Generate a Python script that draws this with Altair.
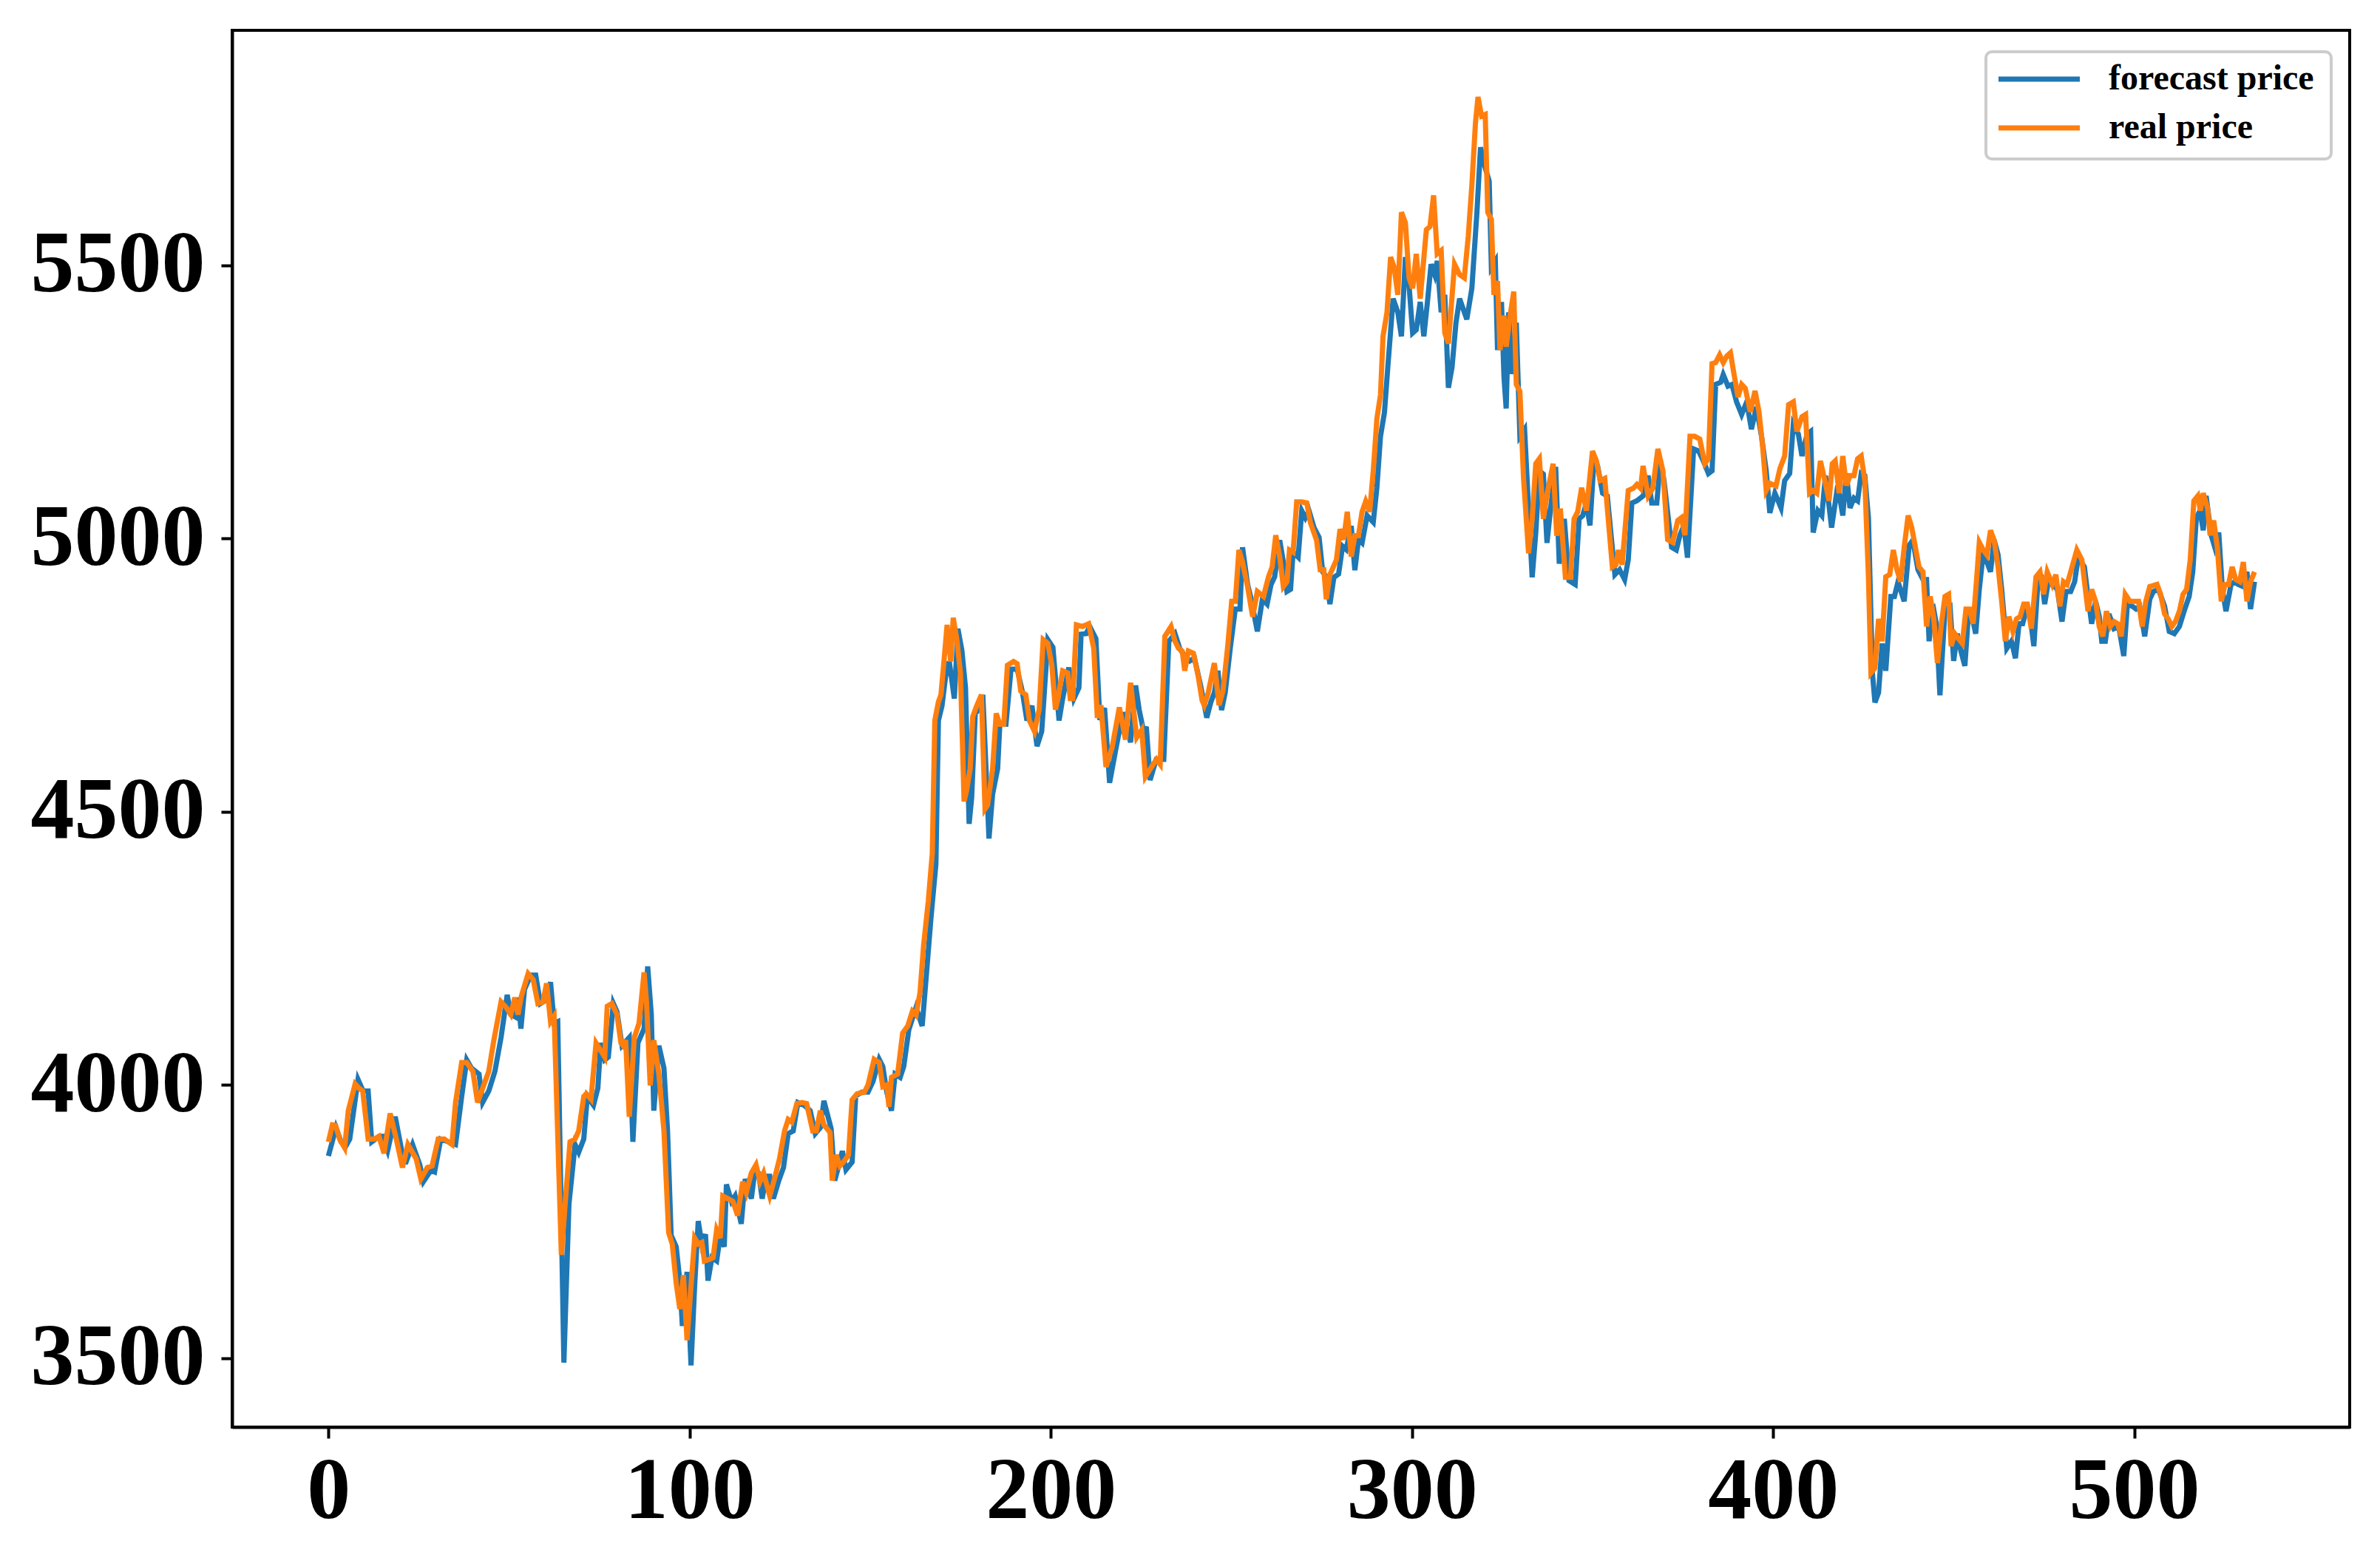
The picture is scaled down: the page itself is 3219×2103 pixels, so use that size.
import altair as alt
import pandas as pd

# ---- data ----
real_x = [0, 1.1, 2, 3.1, 4.5, 5.5, 7.4, 8.5, 9.5, 11, 12.7, 14, 15.4, 17.1, 18.8, 20.5, 22, 24.3, 25.6, 27.4,
          28.7, 30.4, 32.1, 34.2, 35.2, 36.9, 38.3, 40, 41.3, 42.7, 44.4, 45.8, 47.8, 49.2, 50.5, 51.6, 52.5, 53.4,
          55.3, 56.7, 58, 59.4, 60.4, 61.5, 62.5, 64.5, 65.6, 66.9,
          68.3, 69.3, 70.7, 71.4, 72.7, 74.1, 75.5, 76.5, 77.2, 78.5, 79.9, 81, 81.6, 82.3, 83.3, 84.7, 86, 87.4,
          88.1, 89.1, 90.1, 91.5, 92.9, 94.2, 95.2, 96.3, 97.3, 98.3, 99.3, 100.4, 101.4, 102.4, 103.4, 104.1,
          105.5, 106.5, 107.5, 108.5, 109.2, 110.6, 112, 113.3, 114.7, 115.7, 117.1, 118.4, 119.5, 120.5, 122.2,
          123.5, 124.9, 126.3, 127.3, 128.3, 129.7, 131.1, 132.4, 134.1, 135.1, 136.2, 137.2,
          138.9, 139.5, 140.6, 141.6, 142.6, 144, 145, 146.4, 148.4, 149.4, 151.1, 152.5, 153.5, 154.6, 155.2,
          155.9, 157.6, 159, 160.4, 161.7, 162.7, 163.8, 164.8, 166.1, 167.2, 167.9, 168.9, 169.6, 170.6, 171.3,
          172.3, 173, 174, 175, 176, 176.7, 177.7, 178.4, 179.5, 180.8, 181.8, 182.5, 183.9, 184.9, 185.9, 187,
          188, 189.7, 190.7, 191.7, 193.1, 194.1, 195.5, 196.8, 197.9, 199.2, 200.3, 201.3, 202, 203.3, 204.7,
          205.4, 206.1, 207.1,
          208.8, 210.5, 211.9, 212.9, 213.9, 215.3, 217, 219, 220.7, 222.1, 223.8, 225.2, 226.2, 227.9, 229.3,
          230.3, 231.6, 233.3, 234.4, 235.4, 236.4, 237.1, 238.1, 239.5, 240.8, 241.9, 242.5, 243.6, 245.3,
          246.6, 247.7, 249, 250.1, 251.1, 252.1, 253.1, 254.5, 255.9, 257.2, 258.9, 260.3, 261.3, 262.3, 263.4,
          264.4, 265.4, 266.1, 267.1, 268.1, 269.5, 270.9, 271.9, 273.6, 274.6, 275.6, 276.3, 277.3,
          279.1, 280.1, 281.1, 282.1, 283.2, 284.2, 285.2, 286.2, 287.2, 288.3, 289.3, 290.3, 291.3, 292, 293.1,
          294.1, 295.1, 296.1, 297.1, 298.2, 299.2, 300.2, 301.2, 302.3, 304, 305, 306, 307, 308.1, 309.1, 310.1,
          311.8, 313.2, 314.5, 315.6, 316.6, 317.6, 318.3, 319.3, 320.3, 321, 322, 322.7, 323.7, 324.4, 325.5,
          326.1, 327.2, 328.2, 328.9, 329.9, 330.9, 332.3, 333.3, 334.3, 335.3, 336.4, 337.4, 339.1, 340.1,
          341.1, 342.5, 343.9, 344.9, 345.9, 347,
          348.3, 350, 351.1, 352.1, 353.4, 355.5, 356.5, 357.2, 358.2, 359.9, 361.3, 362.3, 363.3, 364, 365.4,
          366.7, 368.1, 369.5, 370.8, 372.2, 373.6, 374.6, 375.6, 377, 378.3, 379.7, 381.1, 382.1, 383.1, 384.1,
          385.2, 386.2, 387.2, 388.2, 389.2, 390.3, 391.3, 392.3, 393.7, 395, 396.1, 397.1, 398.1, 399.1, 400.8,
          401.9, 403.2, 404.3, 405.6, 406.6, 408, 409, 410.1, 411.1, 412.1, 413.1, 414.2, 415.5, 416.4,
          417.2, 418.3, 419.3, 420.3, 421.3, 422.4, 423.4, 424.4, 425.4, 426.4, 427.1, 428.2, 429.2, 430.2, 431.2,
          432.3, 433.3, 434.3, 435.3, 436.3, 437.4, 438.4, 439.4, 440.4, 441.5, 442.5, 443.5, 444.5, 445.5,
          446.6, 447.6, 448.6, 449.3, 450.3, 451.3, 452.4, 453.4, 454.4, 455.4, 456.5, 457.1, 458.2, 459.2,
          460.2, 461.2, 462.3, 463.3, 464.3, 465.3, 466.4, 467.4, 468.4, 469.4, 470.4, 471.5, 472.8, 473.9,
          474.9, 475.9,
          477.3, 478.3, 479.4, 480.4, 481.4, 482.4, 484.1, 485.5, 487.2, 488.2, 489.3, 490.3, 491.3, 492.3,
          493.4, 494.4, 495.4, 496.4, 497.5, 498.8, 499.8, 501.2, 502.2, 503.2, 504.3, 505.3, 506.3, 507.3,
          508.4, 509.4, 510.4, 511.4, 512.5, 513.5, 514.5, 515.5, 516.5, 517.6, 518.3, 519.1, 520.3, 521, 522,
          523, 524.1, 525.1, 526.1, 527.1, 528.1, 529.2, 530.2, 531.2, 532.2, 533.3]
real_price = [3896, 3927, 3926, 3901, 3885, 3953, 4002, 3994, 3989, 3901, 3901, 3906, 3875, 3948, 3901, 3849, 3891,
              3865, 3828, 3849, 3852, 3901, 3901, 3891, 3968, 4041, 4041, 4025, 3968, 3994, 4025, 4082, 4152, 4142,
              4129, 4160, 4129, 4162, 4204, 4193, 4149, 4152, 4186, 4116, 4126, 3689, 3787, 3896,
              3901, 3916, 3979, 3984, 3974, 4077, 4062, 4051, 4144, 4149, 4129, 4077, 4072, 4082, 3942, 4087, 4113,
              4206, 4149, 3999, 4082, 4020, 3916, 3730, 3709, 3637, 3590, 3652, 3533, 3632, 3720, 3709, 3712, 3678,
              3681, 3684, 3735, 3720, 3797, 3792, 3787, 3761, 3823, 3803, 3839, 3854, 3823, 3839, 3797, 3828, 3865,
              3916, 3937, 3932, 3966, 3968, 3966, 3916, 3916, 3953, 3927,
              3913, 3825, 3872, 3852, 3859, 3872, 3973, 3984, 3987, 4000, 4047, 4041, 3997, 4000, 3960, 4014, 4020,
              4095, 4108, 4135, 4128, 4169, 4256, 4337, 4424, 4667, 4701, 4714, 4788, 4842, 4775, 4855, 4815, 4754,
              4519, 4539, 4579, 4674, 4694, 4714, 4505, 4512, 4579, 4680, 4660, 4660, 4768, 4775, 4771, 4721, 4714,
              4667, 4647, 4687, 4815, 4808, 4768, 4687, 4707, 4758, 4754, 4707, 4707, 4842,
              4839, 4844, 4799, 4672, 4695, 4582, 4618, 4691, 4632, 4736, 4636, 4650, 4564, 4582, 4596, 4587, 4821,
              4839, 4812, 4799, 4794, 4758, 4794, 4790, 4749, 4704, 4695, 4718, 4772, 4695, 4722, 4803, 4885, 4885,
              4979, 4957, 4912, 4857, 4903, 4894, 4930, 4948, 5006, 4966, 4912, 4921, 4979, 4975, 5067, 5067, 5065,
              5029, 4997, 4943, 4943, 4889, 4934,
              4961, 5017, 4998, 5049, 4967, 5005, 5005, 5049, 5068, 5049, 5124, 5219, 5263, 5370, 5414, 5515, 5496,
              5446, 5597, 5578, 5477, 5458, 5521, 5439, 5565, 5571, 5628, 5521, 5527, 5376, 5357, 5502, 5483, 5477,
              5553, 5647, 5761, 5808, 5773, 5776, 5597, 5584, 5446, 5471, 5345, 5408, 5351, 5408, 5452, 5282, 5269,
              5111, 4973, 5036, 5137, 5146, 5036, 5080, 5137, 5005, 5055, 4929, 4929, 5036, 5049, 5093,
              5051, 5160, 5142, 5106, 5110, 4948, 4952, 4979, 4952, 5088, 5092, 5099, 5092, 5133, 5078, 5092, 5164,
              5124, 4998, 4993, 5033, 5038, 5006, 5187, 5187, 5182, 5137, 5146, 5320, 5322, 5336, 5322, 5334, 5340,
              5300, 5259, 5282, 5275, 5232, 5270, 5232, 5169, 5088, 5101, 5096, 5128, 5151, 5245, 5250, 5196, 5223,
              5227, 5083, 5088, 5083, 5142, 5110, 5069, 5137,
              5142, 5083, 5151, 5097, 5115, 5115, 5146, 5151, 5106, 4930, 4754, 4763, 4853, 4812, 4930, 4934, 4979,
              4943, 4921, 4984, 5042, 5020, 4984, 4948, 4939, 4839, 4894, 4853, 4772, 4844, 4894, 4898, 4803, 4826,
              4817, 4808, 4871, 4871, 4844, 4939, 4993, 4979, 4970, 5015, 4997, 4948, 4885, 4812, 4857, 4830, 4853,
              4857, 4880, 4880, 4835, 4930, 4939, 4898, 4939,
              4916, 4934, 4876, 4921, 4916, 4939, 4979, 4961, 4867, 4907, 4885, 4839, 4821, 4867, 4839, 4848, 4844,
              4821, 4898, 4885, 4885, 4885, 4839, 4885, 4912, 4914, 4916, 4898, 4862, 4853, 4839, 4848, 4867, 4898,
              4907, 4961, 5069, 5078, 5051, 5083, 5056, 5006, 5033, 4984, 4885, 4916, 4916, 4948, 4925, 4921, 4957,
              4885, 4921, 4939]

forecast_x = [0, 2.1, 3.5, 4.8, 5.9, 8.2, 9.6, 11, 12, 14, 15, 16.4, 18.5, 20.9, 21.5, 23.3, 25.3, 26.3, 28.4, 29.4,
              31.1, 33.2, 35.2, 36.9, 38.3, 39.6, 41.7, 42.7, 44.4, 46.1, 47.8, 49.5, 50.5, 51.9, 52.5, 53.3, 54.3,
              56, 57.4, 58.7, 60.1, 61.5, 62.5, 63.5, 65.2, 66.6,
              68.3, 69.3, 70.7, 71.7, 73.4, 74.6, 75.4, 76.5, 77.5, 78.9, 79.9, 81.3, 83.3, 84.3, 85.7, 87.4, 88.4,
              89.4, 90.1, 91.5, 92.9, 93.9, 94.9, 96.3, 97.3, 98, 99.3, 100.4, 101.4, 102.4, 103.4, 104.4, 105.1,
              106.2, 107.5, 108.5, 109.6, 110.2, 111.6, 112.6, 114.3, 115.4, 117.1, 118.1, 119.1, 120.1, 121.2,
              122.2, 123.2, 124.6, 126, 127.3, 128.7, 130, 131.7, 133.4, 134.8, 136.2, 137.2,
              139.2, 140.2, 141.3, 142.3, 143.3, 145, 146, 147.7, 149.4, 150.8, 152.5, 153.5, 154.6, 155.9, 156.9,
              158.3, 159.3, 160.7, 162.7, 164.4, 165.5, 166.8, 168.2, 168.9, 169.9, 170.9, 171.9, 173.3, 174.3,
              175.4, 176.4, 177.4, 178.1, 179.1, 180.1, 181.2, 182.9, 183.9, 185.3, 185.9, 187.6, 189, 190.7, 192.1,
              193.4, 194.8, 196.2, 197.5, 199.2, 200.6, 202.3, 203.3, 205, 206.4, 207.8,
              208.4, 209.8, 210.8, 212.5, 213.6, 214.9, 216.3, 218, 220, 222.1, 223.5, 224.5, 225.5, 226.5, 227.5,
              229.2, 231.3, 232.7, 234.4, 235.7, 237.1, 238.5, 239.8, 241.5, 243.2, 244.3, 245.3, 246.3, 247.3,
              248.3, 249.7, 251.1, 252.4, 253.1, 254.5, 255.5, 257.2, 258.6, 259.9, 261, 262, 263.4, 264.4, 265.4,
              266.4, 267.1, 268.5, 269.5, 270.5, 271.5, 272.9, 274.3, 275.3, 276.3, 277.3,
              278.4, 279.7, 280.8, 281.8, 283.2, 284.2, 285.2, 286.2, 287.6, 289.3, 290.3, 291.3, 292.4, 293.4,
              294.8, 296.1, 297.1, 298.2, 299.2, 300.2, 301.2, 302.3, 303.3, 304.3, 305.3, 306.3, 307, 308.1, 309.1,
              310.1, 311.1, 312.2, 313.2, 314.2, 315.2, 316.6, 318, 319, 320, 321.4, 322, 323.1, 323.7, 324.8,
              325.5, 326.1, 326.8, 327.8, 328.9, 329.9, 331.2, 332.3, 333.3, 334.3, 335.3, 336.4, 337.4, 338.4,
              339.8, 340.8, 342.2, 343.5, 345.2, 346.3,
              347.3, 348.3, 349.3, 350.4, 351.4, 352.8, 354.1, 356.2, 357.5, 358.9, 359.9, 360.9, 362.3, 364, 365.4,
              366.4, 367.8, 368.8, 369.8, 371.9, 373.2, 374.2, 375.3, 376.3, 378, 379.4, 380.7, 382.1, 383.1, 384.1,
              385.5, 386.2, 387.5, 388.6, 389.9, 391.3, 392.7, 394, 395.4, 396.8, 398.1, 399.1, 400.5, 402.2, 403.2,
              404.6, 405.6, 407, 408, 409.4, 410.4, 411.1, 412.4, 413.5, 414.5, 416.2,
              417.9, 419.3, 420.3, 421.3, 422.4, 423.4, 424.4, 425.4, 426.4, 427.5, 428.2, 429.2, 430.2, 431.2,
              432.6, 433.6, 434.6, 436.3, 437.7, 438.7, 440.1, 441.5, 442.5, 443.2, 444.2, 445.2, 446.2, 447.6, 449,
              450, 451, 452, 453.1, 454.1, 455.1, 456.1, 457.1, 458.2, 459.2, 460.2, 461.2, 462.3, 463.3, 464.7,
              466, 467.1, 468.1, 469.1, 470.2, 471.1, 472.2, 473.2, 474.2, 475.2, 476.3,
              477.3, 478.7, 480, 481.1, 482.4, 483.5, 484.5, 486.2, 487.2, 488.2, 489.3, 490.3, 491, 492, 493,
              494.4, 495.7, 497.1, 498.1, 499.5, 500.5, 501.5, 502.9, 504.3, 505.3, 506.7, 508.4, 509.7, 511.1,
              512.5, 513.8, 515.2, 516.2, 517.2, 518.2, 519.1, 519.9, 521.3, 522.3, 523.4, 524.4, 525.4, 526.8,
              527.8, 528.8, 530.2, 531.2, 532.2, 533.3]
forecast_price = [3870, 3922, 3896, 3888, 3901, 4010, 3989, 3989, 3896, 3906, 3906, 3880, 3942, 3859, 3859, 3891,
                  3854, 3823, 3844, 3841, 3901, 3896, 3891, 3979, 4046, 4031, 4020, 3968, 3989, 4025, 4087, 4165,
                  4129, 4124, 4160, 4103, 4175, 4201, 4201, 4149, 4155, 4188, 4113, 4116, 3492, 3782,
                  3891, 3877, 3901, 3979, 3963, 3994, 4077, 4046, 4051, 4149, 4134, 4072, 4087, 3896, 4077, 4103,
                  4217, 4129, 3953, 4072, 4031, 3916, 3725, 3704, 3642, 3559, 3658, 3487, 3632, 3751, 3709, 3727,
                  3642, 3684, 3678, 3725, 3704, 3818, 3787, 3797, 3746, 3828, 3792, 3844, 3839, 3792, 3833, 3833,
                  3792, 3823, 3849, 3911, 3916, 3968, 3963, 3953, 3911, 3922, 3971,
                  3920, 3825, 3852, 3879, 3845, 3859, 3980, 3987, 3987, 4007, 4047, 4034, 3987, 3953, 4020, 4014,
                  4034, 4101, 4142, 4108, 4196, 4303, 4404, 4667, 4694, 4748, 4775, 4707, 4835, 4795, 4727, 4478,
                  4525, 4680, 4687, 4714, 4451, 4532, 4579, 4660, 4660, 4761, 4761, 4721, 4667, 4694, 4620, 4647,
                  4815, 4801, 4667, 4707, 4764, 4707, 4727,
                  4825, 4826, 4839, 4817, 4668, 4690, 4553, 4614, 4682, 4627, 4731, 4686, 4654, 4652, 4558, 4596,
                  4596, 4812, 4826, 4799, 4785, 4776, 4781, 4731, 4672, 4700, 4718, 4758, 4686, 4718, 4799, 4871,
                  4871, 4984, 4916, 4889, 4830, 4889, 4880, 4916, 4930, 4997, 4957, 4903, 4907, 4975, 4966, 5051,
                  5038, 5051, 5020, 5002, 4939, 4930, 4880,
                  4929, 4935, 4986, 4980, 5023, 4942, 4998, 4992, 5042, 5030, 5093, 5187, 5231, 5320, 5439, 5414,
                  5370, 5515, 5464, 5376, 5382, 5433, 5370, 5433, 5502, 5483, 5508, 5414, 5446, 5276, 5313, 5395,
                  5439, 5420, 5401, 5458, 5597, 5716, 5685, 5654, 5496, 5508, 5345, 5433, 5295, 5238, 5414, 5301,
                  5395, 5187, 5200, 5055, 4929, 5011, 5124, 5118, 4992, 5055, 5131, 4954, 5036, 4923, 4916, 5036,
                  5042, 5065, 5024, 5142, 5133, 5083, 5078, 4934, 4943, 4925, 4961, 5065, 5069, 5078, 5115, 5065,
                  5065, 5142, 5106, 4984, 4979, 5006, 5024, 4965, 5164, 5160, 5142, 5119, 5124, 5282, 5286, 5300,
                  5279, 5282, 5250, 5227, 5250, 5200, 5241, 5187, 5124, 5047, 5083, 5056, 5106, 5119, 5209, 5191,
                  5151, 5191, 5196, 5011, 5051, 5042, 5115, 5020,
                  5097, 5042, 5119, 5056, 5074, 5069, 5119, 5115, 5038, 4754, 4700, 4718, 4808, 4758, 4894, 4894,
                  4921, 4885, 4988, 4997, 4943, 4925, 4925, 4812, 4880, 4844, 4713, 4871, 4876, 4776, 4826, 4794,
                  4767, 4862, 4857, 4826, 4907, 4975, 4957, 4939, 4997, 4970, 4907, 4799, 4812, 4781, 4844, 4844,
                  4871, 4862, 4803, 4907, 4934, 4880, 4925,
                  4916, 4907, 4848, 4903, 4903, 4921, 4966, 4948, 4894, 4844, 4885, 4858, 4812, 4812, 4862, 4835,
                  4839, 4785, 4880, 4876, 4871, 4876, 4821, 4889, 4903, 4907, 4876, 4830, 4826, 4839, 4867, 4894,
                  4939, 5038, 5051, 5015, 5078, 5006, 4984, 5011, 4907, 4867, 4916, 4921, 4916, 4912, 4939, 4871,
                  4921]

series_names = ["forecast price", "real price"]
series_colors = ["#1f77b4", "#ff7f0e"]
x_ticks = [0, 100, 200, 300, 400, 500]
y_ticks = [3500, 4000, 4500, 5000, 5500]

W, H = 2864, 1889
FONT = "Liberation Serif"

forecast_df = pd.DataFrame({"t": forecast_x, "price": forecast_price})
real_df = pd.DataFrame({"t": real_x, "price": real_price})

x_enc = alt.X("t:Q", scale=alt.Scale(domain=[-26.65, 559.65], nice=False, zero=False),
              axis=alt.Axis(values=x_ticks, title=None, grid=False, format="d", labelPadding=14))
y_enc = alt.Y("price:Q", scale=alt.Scale(domain=[3374, 5930], nice=False, zero=False),
              axis=alt.Axis(values=y_ticks, title=None, grid=False, format="d", labelPadding=22))

forecast_line = alt.Chart(forecast_df).mark_line(color=series_colors[0], strokeWidth=7).encode(x=x_enc, y=y_enc)
real_line = alt.Chart(real_df).mark_line(color=series_colors[1], strokeWidth=7).encode(x=x_enc, y=y_enc)

# legend drawn by hand (matplotlib-style box)
box = alt.Chart(pd.DataFrame({"a": [0]})).mark_rect(
    fill="white", fillOpacity=0.8, stroke="#cccccc", strokeWidth=4, cornerRadius=8
).encode(x=alt.value(2372), x2=alt.value(2839), y=alt.value(29), y2=alt.value(174))

legend_layers = []
for i, (name, col) in enumerate(zip(series_names, series_colors)):
    yy = 66 + i * 66
    legend_layers.append(
        alt.Chart(pd.DataFrame({"a": [0]})).mark_rule(color=col, strokeWidth=7).encode(
            x=alt.value(2389), x2=alt.value(2499), y=alt.value(yy))
    )
    legend_layers.append(
        alt.Chart(pd.DataFrame({"a": [0]})).mark_text(
            text=name, align="left", baseline="middle", font=FONT, fontWeight="bold",
            fontSize=48, color="black"
        ).encode(x=alt.value(2538), y=alt.value(yy))
    )

chart = alt.layer(forecast_line, real_line, box, *legend_layers).properties(
    width=W, height=H,
    autosize=alt.AutoSizeParams(type="none"),
    padding={"left": 306, "top": 33, "right": 20, "bottom": 150},
).configure_view(
    stroke="black", strokeWidth=4
).configure_axis(
    domainColor="black", domainWidth=4, tickColor="black", tickWidth=4, tickSize=15,
    labelFont=FONT, labelFontWeight="bold", labelFontSize=118, labelColor="black",
    labelLimit=0
)

chart.save("out.html", embed_options={"renderer": "svg", "actions": False})
